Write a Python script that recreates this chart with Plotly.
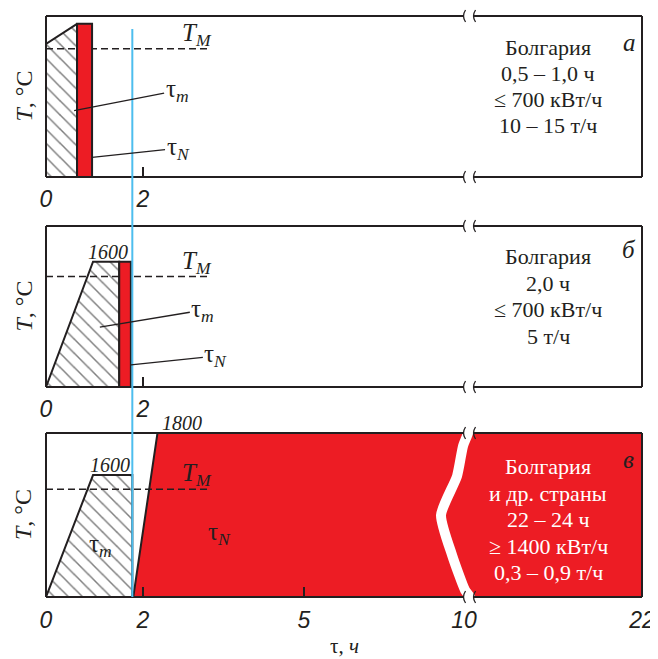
import numpy as np
import plotly.graph_objects as go
from plotly.subplots import make_subplots

# ---------------- data ----------------
# schematic (broken) time axis: hours -> axis units
AXIS_HOURS = [0, 2, 5, 10, 22]
AXIS_UNITS = [0.0, 2.0, 5.32, 8.62, 12.29]

TICK_HOURS_TOP = [0, 2]
TICK_TEXT_TOP = ["0", "2"]
TICK_HOURS_BOTTOM = [0, 2, 5, 10, 22]
TICK_TEXT_BOTTOM = ["0", "2", "5", "10", "22"]
MINOR_TICK_TOP = [2]
MINOR_TICK_BOTTOM = [2, 5]
BREAK_HOUR = 10

T_MELT = 1533
TM_LINE_HOURS = [0, 3.23]
Y_RANGES = [[1187, 1621], [1037, 1760], [1020, 1800]]

# panel а
A_HATCH_HOURS = [0.0, 0.64, 0.64, 0.0]
A_HATCH_TEMPS = [1546, 1600, 1187, 1187]
A_BAR_HOURS = [0.64, 0.64, 0.95, 0.95]
A_BAR_TEMPS = [1187, 1600, 1600, 1187]
# panel б
B_HATCH_HOURS = [0.0, 0.97, 1.51, 1.51]
B_HATCH_TEMPS = [1037, 1600, 1600, 1037]
B_BAR_HOURS = [1.51, 1.51, 1.75, 1.75]
B_BAR_TEMPS = [1037, 1600, 1600, 1037]
# panel в
C_HATCH_HOURS = [0.0, 0.97, 1.78, 1.78]
C_HATCH_TEMPS = [1020, 1600, 1600, 1020]
C_RED_HOURS = [1.80, 2.27, 22, 22]
C_RED_TEMPS = [1020, 1800, 1800, 1020]

BLUE_HOUR = 1.78

TEXT_A = ["Болгария", "0,5 – 1,0 ч", "≤ 700 кВт/ч", "10 – 15 т/ч"]
TEXT_B = ["Болгария", "2,0 ч", "≤ 700 кВт/ч", "5 т/ч"]
TEXT_C = ["Болгария", "и др. страны", "22 – 24 ч", "≥ 1400 кВт/ч", "0,3 – 0,9 т/ч"]
PANEL_LETTERS = ["а", "б", "в"]

# ---------------- style / layout ----------------
DARK = "#231f20"
RED = "#ed1c24"
BLUE = "#4dbeee"
SERIF = "Liberation Serif"
SANS = "Liberation Sans"

OFF = 8                      # page body margin of the browser
W, H = 658 - OFF, 659 - OFF
BOX_L, BOX_R = 46, 642       # box edges in window pixels
ML = BOX_L - OFF
MR = W + OFF - BOX_R
MT, MB = 0, 0
PW = BOX_R - BOX_L
PANEL_PX = [(16, 177), (226, 387), (433, 597)]


def to_u(h):
    return np.interp(np.asarray(h, dtype=float), AXIS_HOURS, AXIS_UNITS)


def xp(px):
    return (px - BOX_L) / PW


def yp(py):
    return 1 - (py - OFF - MT) / (H - MT - MB)


U_MAX = AXIS_UNITS[-1]

fig = make_subplots(rows=3, cols=1)

hatch = dict(shape="\\", fgcolor="#000000", bgcolor="white", size=10, solidity=0.15)


def poly(hours, temps, row, fillcolor=None, pattern=None, lw=2):
    hh = list(hours) + [hours[0]]
    tt = list(temps) + [temps[0]]
    kw = dict(fillpattern=pattern) if pattern else dict(fillcolor=fillcolor)
    fig.add_trace(go.Scatter(x=to_u(hh), y=tt, mode="lines", fill="toself",
                             line=dict(color=DARK, width=lw), hoverinfo="skip",
                             **kw), row=row, col=1)


def tm_line(row):
    fig.add_trace(go.Scatter(x=to_u(TM_LINE_HOURS), y=[T_MELT, T_MELT], mode="lines",
                             line=dict(color=DARK, width=1.5, dash="7px,4px"),
                             hoverinfo="skip"), row=row, col=1)


# panel а
poly(A_HATCH_HOURS, A_HATCH_TEMPS, 1, pattern=hatch)
tm_line(1)
poly(A_BAR_HOURS, A_BAR_TEMPS, 1, fillcolor=RED)
# panel б
poly(B_HATCH_HOURS, B_HATCH_TEMPS, 2, pattern=hatch)
tm_line(2)
poly(B_BAR_HOURS, B_BAR_TEMPS, 2, fillcolor=RED)
# panel в
poly(C_RED_HOURS, C_RED_TEMPS, 3, fillcolor=RED)
poly(C_HATCH_HOURS, C_HATCH_TEMPS, 3, pattern=hatch)
tm_line(3)

# white break band in panel в (decoration around the axis break)
u_break = float(to_u(BREAK_HOUR))
wave_dx = np.array([5, 4, -1, -7, -23, -12, 1, 6, 7]) / 48.5
wave_t = [1840, 1800, 1738, 1595, 1410, 1220, 1053, 1020, 980]
fig.add_trace(go.Scatter(x=u_break + wave_dx, y=wave_t, mode="lines",
                         line=dict(color="white", width=10, shape="spline", smoothing=0.6),
                         hoverinfo="skip"), row=3, col=1)

# axes
domains = [[yp(b), yp(t)] for (t, b) in PANEL_PX]
for i in range(3):
    sfx = "" if i == 0 else str(i + 1)
    bottom = i == 2
    tv = TICK_HOURS_BOTTOM if bottom else TICK_HOURS_TOP
    tt = TICK_TEXT_BOTTOM if bottom else TICK_TEXT_TOP
    mv = MINOR_TICK_BOTTOM if bottom else MINOR_TICK_TOP
    fig.layout["xaxis" + sfx].update(
        domain=[0, 1], range=[0, U_MAX], tickmode="array",
        tickvals=list(to_u(tv)), ticktext=tt, ticks="", showline=False,
        showgrid=False, zeroline=False, ticklabelstandoff=7 if bottom else 6,
        automargin=False,
        tickfont=dict(family=SANS, size=23, style="italic", color=DARK),
        minor=dict(tickmode="array", tickvals=list(to_u(mv)), ticks="inside",
                   ticklen=10, tickwidth=1.5, tickcolor=DARK, showgrid=False))
    fig.layout["yaxis" + sfx].update(
        domain=domains[i], range=Y_RANGES[i], showticklabels=False, ticks="",
        showline=False, showgrid=False, zeroline=False, automargin=False)

shapes = []
bL = u_break / U_MAX
bR = bL + 10 / PW
for i in range(3):
    sfx = "" if i == 0 else str(i + 1)
    xr, yr = "x" + sfx + " domain", "y" + sfx + " domain"
    ph = PANEL_PX[i][1] - PANEL_PX[i][0]
    line = dict(color=DARK, width=2)
    segs = [(0, 0, 0, 1), (1, 0, 1, 1), (0, 1, bL, 1), (bR, 1, 1, 1), (0, 0, bL, 0), (bR, 0, 1, 0)]
    for x0, y0, x1, y1 in segs:
        shapes.append(dict(type="line", xref=xr, yref=yr, x0=x0, y0=y0, x1=x1, y1=y1, line=line))
    dy = 6 / ph
    dx = 2.5 / PW
    for yy in (0, 1):
        for xx in (bL, bR):
            shapes.append(dict(type="path", xref=xr, yref=yr,
                               path=f"M {xx + dx*0.6},{yy - dy} Q {xx - dx},{yy} {xx + dx*0.6},{yy + dy}",
                               line=dict(color=DARK, width=1.3)))

# blue marker line across all panels
shapes.append(dict(type="line", xref="x3", yref="paper", x0=float(to_u(BLUE_HOUR)),
                   x1=float(to_u(BLUE_HOUR)), y0=yp(597), y1=yp(29),
                   line=dict(color=BLUE, width=2)))

ann = []


def txt(x, y, text, size=22, family=SERIF, color=DARK, **kw):
    d = dict(x=xp(x), y=yp(y), xref="paper", yref="paper", text=text, showarrow=False,
             xanchor="center", yanchor="middle",
             font=dict(family=family, size=size, color=color))
    d.update(kw)
    ann.append(d)


# right-hand text blocks
for lines, ys, col in [(TEXT_A, [47.5, 73.5, 99.5, 125.5], DARK),
                       (TEXT_B, [256.5, 283, 309.5, 336], DARK),
                       (TEXT_C, [467, 493, 519.5, 546, 572.5], "white")]:
    for s, y in zip(lines, ys):
        txt(548, y, s, size=22, color=col)

for letter, (x, y) in zip(PANEL_LETTERS, [(629, 42), (629, 249), (628, 460)]):
    txt(x, y, f"<i>{letter}</i>", size=25)

for (t, b) in PANEL_PX:
    txt(23, (t + b) / 2, "<i>T</i>, °C", size=24, textangle=-90)

# x-axis title, kept inside the page bottom
txt(344, 659, "τ, <i>ч</i>", size=21, yanchor="bottom", borderpad=0)


def dann(row, h, T, text, size=24, **kw):
    sfx = "" if row == 1 else str(row)
    d = dict(x=float(to_u(h)), y=T, xref="x" + sfx, yref="y" + sfx, text=text,
             showarrow=False, xanchor="center", yanchor="middle",
             font=dict(family=SERIF, size=size, color=DARK))
    d.update(kw)
    ann.append(d)


TM_TEXT = "<i>T</i><sub><i>M</i></sub>"
TAU_M = "τ<sub><i>m</i></sub>"
TAU_N = "τ<sub><i>N</i></sub>"
for r in (1, 2, 3):
    dann(r, 3.0, T_MELT, TM_TEXT, size=25, yanchor="bottom", yshift=-3)

arrow = dict(showarrow=True, arrowhead=0, arrowwidth=1.3, arrowcolor=DARK)
dann(1, 0.58, 1366, TAU_M, ax=103, ay=-20, size=25, **arrow)
dann(1, 0.95, 1240, TAU_N, ax=86, ay=-9, size=25, **arrow)
dann(2, 1.11, 1306, TAU_M, ax=103, ay=-17, size=25, **arrow)
dann(2, 1.75, 1136, TAU_N, ax=85, ay=-9, size=25, **arrow)
dann(3, 1.13, 1263, TAU_M, size=25)
dann(3, 3.42, 1324, TAU_N, size=25)

dann(2, 1.28, 1600, "<i>1600</i>", size=20, yanchor="bottom", yshift=-3)
dann(3, 1.32, 1600, "<i>1600</i>", size=20, yanchor="bottom", yshift=-3)
dann(3, 2.72, 1800, "<i>1800</i>", size=20, yanchor="bottom", yshift=-3)

fig.update_layout(width=W, height=H, margin=dict(l=ML, r=MR, t=MT, b=MB, autoexpand=False),
                  paper_bgcolor="white", plot_bgcolor="white", showlegend=False,
                  shapes=shapes, annotations=ann)

fig.write_html("out.html")
